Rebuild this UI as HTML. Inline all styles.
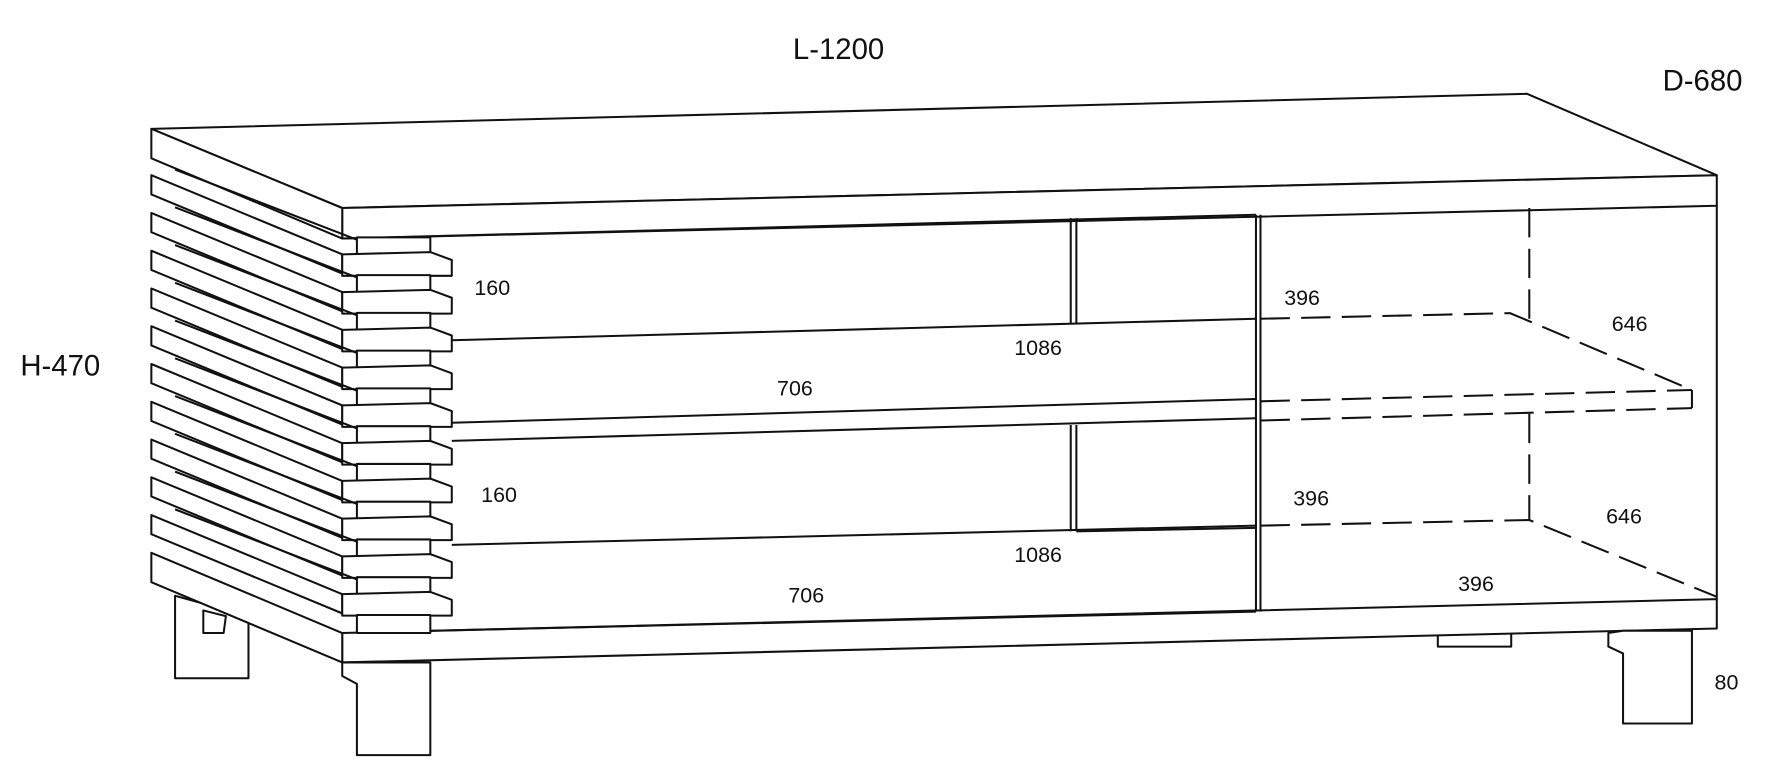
<!DOCTYPE html>
<html><head><meta charset="utf-8"><style>
html,body{margin:0;padding:0;background:#fff;width:1771px;height:780px;overflow:hidden}
svg{display:block}
text{font-family:"Liberation Sans",sans-serif;fill:#111}
</style></head><body>
<svg width="1771" height="780" viewBox="0 0 1568 690" preserveAspectRatio="none" xmlns="http://www.w3.org/2000/svg">
<g fill="#fff" stroke="#111" stroke-width="1.8" stroke-linejoin="round">
<polygon points="155,527 220,545 220,600 155,600"/>
<polygon points="180,540 200,545 198,560 180,560"/>
<polygon points="1273,558 1338,558 1338,572 1273,572"/>
<polygon points="134,114 1352,83 1520,155 303,184"/>
<polygon points="303,184 1520,155 1520,182 303,211"/>
<polygon points="134,114 303,184 303,211 134,140"/>
<line x1="1520" y1="182" x2="1520" y2="530"/>
<line x1="303" y1="211" x2="1112" y2="190"/>
<polygon points="303,560 1520,530 1520,556 303,586"/>
<polygon points="134,489 303,560 303,586 134,515"/>
<line x1="381" y1="558" x2="1112" y2="541"/>
<line x1="948" y1="193" x2="948" y2="287"/>
<line x1="953" y1="193" x2="953" y2="287"/>
<line x1="948" y1="376" x2="948" y2="470"/>
<line x1="953" y1="376" x2="953" y2="470"/>
<line x1="1112" y1="190" x2="1112" y2="541"/>
<line x1="1116" y1="190" x2="1116" y2="541"/>
<line x1="400" y1="301" x2="1112" y2="282"/>
<line x1="400" y1="374" x2="1112" y2="353"/>
<line x1="400" y1="390" x2="1112" y2="370"/>
<line x1="953" y1="470" x2="1112" y2="467"/>
<line x1="400" y1="482" x2="1112" y2="465"/>
</g>
<g fill="none" stroke="#111" stroke-width="1.8" stroke-dasharray="26,10">
<polyline points="1116,282 1337,277 1498,345"/>
<line x1="1354" y1="184" x2="1354" y2="283"/>
<line x1="1116" y1="355" x2="1498" y2="345"/>
<line x1="1116" y1="372" x2="1498" y2="361"/>
<line x1="1498" y1="345" x2="1498" y2="361" stroke-dasharray="none"/>
<line x1="1354" y1="366" x2="1354" y2="460"/>
<polyline points="1116,465 1354,460 1520,528"/>
</g>
<g fill="#fff" stroke="#111" stroke-width="1.8" stroke-linejoin="round">
<g id="s">
<polygon points="316,210 381,210 381,225 316,225"/>
<polygon points="134,155 303,225 303,242 134,172"/>
<line x1="155" y1="150" x2="316" y2="212"/>
<polygon points="303,225 381,223 400,230 400,244 303,244"/>
</g>
<use href="#s" y="33.4"/><use href="#s" y="66.8"/><use href="#s" y="100.2"/><use href="#s" y="133.6"/>
<use href="#s" y="167"/><use href="#s" y="200.4"/><use href="#s" y="233.8"/><use href="#s" y="267.2"/><use href="#s" y="300.6"/>
<polygon points="316,544 381,544 381,560 316,560"/>
<polygon points="316,586 381,586 381,668 316,668 316,605 303,598 303,586"/>
<polygon points="1437,558 1498,558 1498,640 1437,640 1437,578 1424,572 1424,560"/>
</g>
<g font-size="26">
<text x="702" y="52">L-1200</text>
<text x="1472" y="80">D-680</text>
<text x="18" y="332">H-470</text>
</g>
<g font-size="19">
<text x="420" y="261">160</text>
<text x="898" y="314">1086</text>
<text x="688" y="350">706</text>
<text x="1137" y="270">396</text>
<text x="1427" y="293">646</text>
<text x="426" y="444">160</text>
<text x="1145" y="447">396</text>
<text x="1422" y="463">646</text>
<text x="898" y="497">1086</text>
<text x="698" y="533">706</text>
<text x="1291" y="523">396</text>
<text x="1518" y="610">80</text>
</g>
</svg>
</body></html>
